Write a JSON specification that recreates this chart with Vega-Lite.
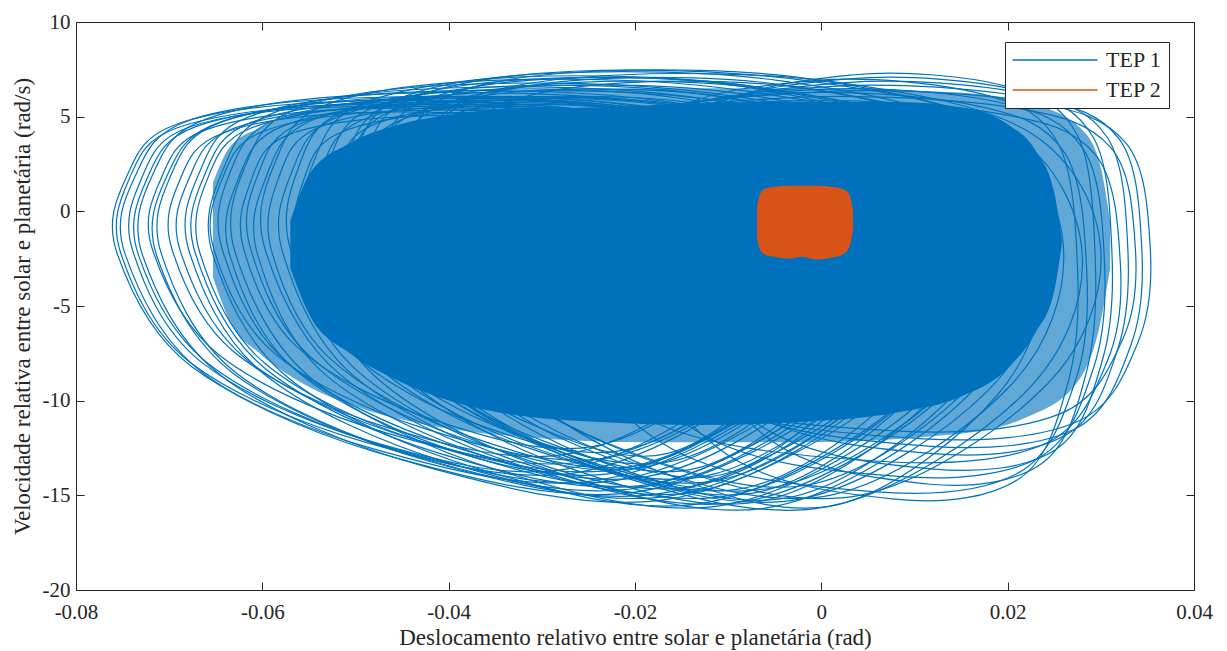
{
"$schema": "https://vega.github.io/schema/vega-lite/v6.json",
"width": 1118, "height": 568,
"autosize": "none",
"padding": {"left": 76, "top": 22, "right": 33, "bottom": 61},
"background": "white",
"datasets": {
"loops": [
{"k":1,"i":1,"x":-0.0517,"y":5.8},{"k":1,"i":2,"x":-0.0263,"y":5.4},{"k":1,"i":3,"x":-0.0040,"y":3.0},{"k":1,"i":4,"x":0.0040,"y":-2.6},{"k":1,"i":5,"x":-0.0024,"y":-9.0},{"k":1,"i":6,"x":-0.0239,"y":-14.2},{"k":1,"i":7,"x":-0.0477,"y":-12.6},{"k":1,"i":8,"x":-0.0676,"y":-8.2},{"k":1,"i":9,"x":-0.0756,"y":-2.2},{"k":1,"i":10,"x":-0.0746,"y":1.8},{"k":1,"i":11,"x":-0.0692,"y":4.6},
{"k":2,"i":1,"x":-0.0493,"y":6.0},{"k":2,"i":2,"x":-0.0222,"y":5.6},{"k":2,"i":3,"x":0.0015,"y":3.1},{"k":2,"i":4,"x":0.0100,"y":-2.7},{"k":2,"i":5,"x":0.0032,"y":-9.4},{"k":2,"i":6,"x":-0.0196,"y":-14.8},{"k":2,"i":7,"x":-0.0451,"y":-13.1},{"k":2,"i":8,"x":-0.0662,"y":-8.6},{"k":2,"i":9,"x":-0.0747,"y":-2.3},{"k":2,"i":10,"x":-0.0737,"y":1.8},{"k":2,"i":11,"x":-0.0679,"y":4.8},
{"k":3,"i":1,"x":-0.0523,"y":5.5},{"k":3,"i":2,"x":-0.0293,"y":5.1},{"k":3,"i":3,"x":-0.0092,"y":2.8},{"k":3,"i":4,"x":-0.0020,"y":-2.5},{"k":3,"i":5,"x":-0.0078,"y":-8.6},{"k":3,"i":6,"x":-0.0272,"y":-13.6},{"k":3,"i":7,"x":-0.0487,"y":-12.1},{"k":3,"i":8,"x":-0.0667,"y":-7.9},{"k":3,"i":9,"x":-0.0739,"y":-2.1},{"k":3,"i":10,"x":-0.0730,"y":1.7},{"k":3,"i":11,"x":-0.0681,"y":4.4},
{"k":4,"i":1,"x":-0.0468,"y":6.2},{"k":4,"i":2,"x":-0.0190,"y":5.8},{"k":4,"i":3,"x":0.0053,"y":3.2},{"k":4,"i":4,"x":0.0140,"y":-2.8},{"k":4,"i":5,"x":0.0071,"y":-9.6},{"k":4,"i":6,"x":-0.0164,"y":-15.2},{"k":4,"i":7,"x":-0.0424,"y":-13.5},{"k":4,"i":8,"x":-0.0641,"y":-8.8},{"k":4,"i":9,"x":-0.0728,"y":-2.4},{"k":4,"i":10,"x":-0.0718,"y":1.9},{"k":4,"i":11,"x":-0.0659,"y":4.9},
{"k":5,"i":1,"x":-0.0503,"y":5.4},{"k":5,"i":2,"x":-0.0273,"y":5.0},{"k":5,"i":3,"x":-0.0072,"y":2.8},{"k":5,"i":4,"x":0.0000,"y":-2.4},{"k":5,"i":5,"x":-0.0057,"y":-8.4},{"k":5,"i":6,"x":-0.0251,"y":-13.2},{"k":5,"i":7,"x":-0.0467,"y":-11.7},{"k":5,"i":8,"x":-0.0646,"y":-7.6},{"k":5,"i":9,"x":-0.0718,"y":-2.0},{"k":5,"i":10,"x":-0.0709,"y":1.7},{"k":5,"i":11,"x":-0.0661,"y":4.3},
{"k":6,"i":1,"x":-0.0472,"y":5.9},{"k":6,"i":2,"x":-0.0219,"y":5.5},{"k":6,"i":3,"x":-0.0001,"y":3.0},{"k":6,"i":4,"x":0.0080,"y":-2.7},{"k":6,"i":5,"x":0.0017,"y":-9.3},{"k":6,"i":6,"x":-0.0196,"y":-14.6},{"k":6,"i":7,"x":-0.0432,"y":-13.0},{"k":6,"i":8,"x":-0.0629,"y":-8.5},{"k":6,"i":9,"x":-0.0708,"y":-2.3},{"k":6,"i":10,"x":-0.0699,"y":1.8},{"k":6,"i":11,"x":-0.0645,"y":4.7},
{"k":7,"i":1,"x":-0.0500,"y":5.2},{"k":7,"i":2,"x":-0.0290,"y":4.8},{"k":7,"i":3,"x":-0.0106,"y":2.7},{"k":7,"i":4,"x":-0.0040,"y":-2.4},{"k":7,"i":5,"x":-0.0093,"y":-8.1},{"k":7,"i":6,"x":-0.0270,"y":-12.8},{"k":7,"i":7,"x":-0.0467,"y":-11.4},{"k":7,"i":8,"x":-0.0631,"y":-7.4},{"k":7,"i":9,"x":-0.0697,"y":-2.0},{"k":7,"i":10,"x":-0.0689,"y":1.6},{"k":7,"i":11,"x":-0.0644,"y":4.1},
{"k":8,"i":1,"x":-0.0439,"y":6.3},{"k":8,"i":2,"x":-0.0183,"y":5.9},{"k":8,"i":3,"x":0.0040,"y":3.3},{"k":8,"i":4,"x":0.0120,"y":-2.6},{"k":8,"i":5,"x":0.0056,"y":-9.5},{"k":8,"i":6,"x":-0.0159,"y":-15.0},{"k":8,"i":7,"x":-0.0399,"y":-13.3},{"k":8,"i":8,"x":-0.0598,"y":-8.6},{"k":8,"i":9,"x":-0.0678,"y":-2.2},{"k":8,"i":10,"x":-0.0668,"y":2.0},{"k":8,"i":11,"x":-0.0614,"y":5.0},
{"k":9,"i":1,"x":-0.0461,"y":5.6},{"k":9,"i":2,"x":-0.0241,"y":5.2},{"k":9,"i":3,"x":-0.0049,"y":2.9},{"k":9,"i":4,"x":0.0020,"y":-2.5},{"k":9,"i":5,"x":-0.0035,"y":-8.8},{"k":9,"i":6,"x":-0.0220,"y":-13.8},{"k":9,"i":7,"x":-0.0427,"y":-12.2},{"k":9,"i":8,"x":-0.0598,"y":-8.0},{"k":9,"i":9,"x":-0.0667,"y":-2.2},{"k":9,"i":10,"x":-0.0659,"y":1.7},{"k":9,"i":11,"x":-0.0612,"y":4.4},
{"k":10,"i":1,"x":-0.0409,"y":6.5},{"k":10,"i":2,"x":-0.0149,"y":6.1},{"k":10,"i":3,"x":0.0079,"y":3.4},{"k":10,"i":4,"x":0.0160,"y":-2.7},{"k":10,"i":5,"x":0.0095,"y":-9.7},{"k":10,"i":6,"x":-0.0125,"y":-15.4},{"k":10,"i":7,"x":-0.0368,"y":-13.6},{"k":10,"i":8,"x":-0.0572,"y":-8.8},{"k":10,"i":9,"x":-0.0653,"y":-2.3},{"k":10,"i":10,"x":-0.0643,"y":2.1},{"k":10,"i":11,"x":-0.0588,"y":5.2},
{"k":11,"i":1,"x":-0.0432,"y":6.0},{"k":11,"i":2,"x":-0.0207,"y":5.6},{"k":11,"i":3,"x":-0.0010,"y":3.2},{"k":11,"i":4,"x":0.0060,"y":-2.4},{"k":11,"i":5,"x":0.0004,"y":-8.8},{"k":11,"i":6,"x":-0.0186,"y":-14.0},{"k":11,"i":7,"x":-0.0397,"y":-12.4},{"k":11,"i":8,"x":-0.0573,"y":-8.0},{"k":11,"i":9,"x":-0.0643,"y":-2.0},{"k":11,"i":10,"x":-0.0635,"y":2.0},{"k":11,"i":11,"x":-0.0587,"y":4.8},
{"k":12,"i":1,"x":-0.0386,"y":6.7},{"k":12,"i":2,"x":-0.0127,"y":6.3},{"k":12,"i":3,"x":0.0099,"y":3.6},{"k":12,"i":4,"x":0.0180,"y":-2.6},{"k":12,"i":5,"x":0.0115,"y":-9.7},{"k":12,"i":6,"x":-0.0103,"y":-15.5},{"k":12,"i":7,"x":-0.0346,"y":-13.7},{"k":12,"i":8,"x":-0.0548,"y":-8.8},{"k":12,"i":9,"x":-0.0629,"y":-2.2},{"k":12,"i":10,"x":-0.0619,"y":2.3},{"k":12,"i":11,"x":-0.0564,"y":5.4},
{"k":13,"i":1,"x":-0.0417,"y":5.8},{"k":13,"i":2,"x":-0.0208,"y":5.4},{"k":13,"i":3,"x":-0.0025,"y":3.1},{"k":13,"i":4,"x":0.0040,"y":-2.3},{"k":13,"i":5,"x":-0.0012,"y":-8.5},{"k":13,"i":6,"x":-0.0189,"y":-13.5},{"k":13,"i":7,"x":-0.0384,"y":-12.0},{"k":13,"i":8,"x":-0.0548,"y":-7.7},{"k":13,"i":9,"x":-0.0613,"y":-1.9},{"k":13,"i":10,"x":-0.0605,"y":1.9},{"k":13,"i":11,"x":-0.0561,"y":4.6},
{"k":14,"i":1,"x":-0.0358,"y":6.9},{"k":14,"i":2,"x":-0.0103,"y":6.5},{"k":14,"i":3,"x":0.0120,"y":3.8},{"k":14,"i":4,"x":0.0200,"y":-2.4},{"k":14,"i":5,"x":0.0136,"y":-9.5},{"k":14,"i":6,"x":-0.0079,"y":-15.3},{"k":14,"i":7,"x":-0.0318,"y":-13.5},{"k":14,"i":8,"x":-0.0517,"y":-8.6},{"k":14,"i":9,"x":-0.0597,"y":-2.0},{"k":14,"i":10,"x":-0.0587,"y":2.5},{"k":14,"i":11,"x":-0.0533,"y":5.6},
{"k":15,"i":1,"x":-0.0369,"y":6.4},{"k":15,"i":2,"x":-0.0155,"y":6.0},{"k":15,"i":3,"x":0.0033,"y":3.5},{"k":15,"i":4,"x":0.0100,"y":-2.4},{"k":15,"i":5,"x":0.0046,"y":-9.1},{"k":15,"i":6,"x":-0.0135,"y":-14.5},{"k":15,"i":7,"x":-0.0336,"y":-12.8},{"k":15,"i":8,"x":-0.0503,"y":-8.2},{"k":15,"i":9,"x":-0.0570,"y":-2.0},{"k":15,"i":10,"x":-0.0562,"y":2.2},{"k":15,"i":11,"x":-0.0516,"y":5.2},
{"k":16,"i":1,"x":-0.0322,"y":7.1},{"k":16,"i":2,"x":-0.0074,"y":6.6},{"k":16,"i":3,"x":0.0143,"y":3.9},{"k":16,"i":4,"x":0.0220,"y":-2.4},{"k":16,"i":5,"x":0.0158,"y":-9.7},{"k":16,"i":6,"x":-0.0051,"y":-15.6},{"k":16,"i":7,"x":-0.0283,"y":-13.8},{"k":16,"i":8,"x":-0.0477,"y":-8.8},{"k":16,"i":9,"x":-0.0554,"y":-2.0},{"k":16,"i":10,"x":-0.0545,"y":2.6},{"k":16,"i":11,"x":-0.0492,"y":5.7},
{"k":17,"i":1,"x":-0.0341,"y":6.6},{"k":17,"i":2,"x":-0.0130,"y":6.2},{"k":17,"i":3,"x":0.0054,"y":3.7},{"k":17,"i":4,"x":0.0120,"y":-2.1},{"k":17,"i":5,"x":0.0067,"y":-8.8},{"k":17,"i":6,"x":-0.0110,"y":-14.2},{"k":17,"i":7,"x":-0.0308,"y":-12.5},{"k":17,"i":8,"x":-0.0472,"y":-8.0},{"k":17,"i":9,"x":-0.0538,"y":-1.7},{"k":17,"i":10,"x":-0.0530,"y":2.4},{"k":17,"i":11,"x":-0.0485,"y":5.4},
{"k":18,"i":1,"x":-0.0286,"y":7.3},{"k":18,"i":2,"x":-0.0045,"y":6.9},{"k":18,"i":3,"x":0.0165,"y":4.2},{"k":18,"i":4,"x":0.0240,"y":-2.2},{"k":18,"i":5,"x":0.0180,"y":-9.4},{"k":18,"i":6,"x":-0.0023,"y":-15.2},{"k":18,"i":7,"x":-0.0248,"y":-13.4},{"k":18,"i":8,"x":-0.0436,"y":-8.5},{"k":18,"i":9,"x":-0.0511,"y":-1.7},{"k":18,"i":10,"x":-0.0502,"y":2.8},{"k":18,"i":11,"x":-0.0451,"y":6.0},
{"k":19,"i":1,"x":-0.0291,"y":7.0},{"k":19,"i":2,"x":-0.0085,"y":6.6},{"k":19,"i":3,"x":0.0096,"y":3.9},{"k":19,"i":4,"x":0.0160,"y":-2.2},{"k":19,"i":5,"x":0.0109,"y":-9.1},{"k":19,"i":6,"x":-0.0065,"y":-14.8},{"k":19,"i":7,"x":-0.0259,"y":-13.1},{"k":19,"i":8,"x":-0.0420,"y":-8.3},{"k":19,"i":9,"x":-0.0484,"y":-1.7},{"k":19,"i":10,"x":-0.0476,"y":2.6},{"k":19,"i":11,"x":-0.0433,"y":5.7},
{"k":20,"i":1,"x":-0.0243,"y":7.4},{"k":20,"i":2,"x":-0.0013,"y":7.0},{"k":20,"i":3,"x":0.0188,"y":4.3},{"k":20,"i":4,"x":0.0260,"y":-2.0},{"k":20,"i":5,"x":0.0203,"y":-9.2},{"k":20,"i":6,"x":0.0009,"y":-15.0},{"k":20,"i":7,"x":-0.0207,"y":-13.2},{"k":20,"i":8,"x":-0.0386,"y":-8.3},{"k":20,"i":9,"x":-0.0458,"y":-1.6},{"k":20,"i":10,"x":-0.0449,"y":2.9},{"k":20,"i":11,"x":-0.0401,"y":6.1},
{"k":21,"i":1,"x":-0.0006,"y":6.3},{"k":21,"i":2,"x":0.0222,"y":5.8},{"k":21,"i":3,"x":0.0327,"y":3.6},{"k":21,"i":4,"x":0.0353,"y":-1.9},{"k":21,"i":5,"x":0.0340,"y":-6.9},{"k":21,"i":6,"x":0.0275,"y":-11.1},{"k":21,"i":7,"x":0.0105,"y":-12.0},{"k":21,"i":8,"x":-0.0137,"y":-9.8},{"k":21,"i":9,"x":-0.0300,"y":-1.9},{"k":21,"i":10,"x":-0.0222,"y":4.5},
{"k":22,"i":1,"x":0.0012,"y":6.6},{"k":22,"i":2,"x":0.0223,"y":6.0},{"k":22,"i":3,"x":0.0320,"y":3.8},{"k":22,"i":4,"x":0.0344,"y":-2.0},{"k":22,"i":5,"x":0.0332,"y":-7.1},{"k":22,"i":6,"x":0.0272,"y":-11.5},{"k":22,"i":7,"x":0.0115,"y":-12.4},{"k":22,"i":8,"x":-0.0109,"y":-10.1},{"k":22,"i":9,"x":-0.0260,"y":-2.0},{"k":22,"i":10,"x":-0.0188,"y":4.7},
{"k":23,"i":1,"x":-0.0035,"y":6.0},{"k":23,"i":2,"x":0.0202,"y":5.5},{"k":23,"i":3,"x":0.0310,"y":3.4},{"k":23,"i":4,"x":0.0337,"y":-1.9},{"k":23,"i":5,"x":0.0324,"y":-6.7},{"k":23,"i":6,"x":0.0256,"y":-10.7},{"k":23,"i":7,"x":0.0080,"y":-11.6},{"k":23,"i":8,"x":-0.0171,"y":-9.5},{"k":23,"i":9,"x":-0.0340,"y":-1.9},{"k":23,"i":10,"x":-0.0259,"y":4.2},
{"k":24,"i":1,"x":0.0027,"y":6.8},{"k":24,"i":2,"x":0.0219,"y":6.2},{"k":24,"i":3,"x":0.0307,"y":3.9},{"k":24,"i":4,"x":0.0329,"y":-2.0},{"k":24,"i":5,"x":0.0318,"y":-7.3},{"k":24,"i":6,"x":0.0263,"y":-11.8},{"k":24,"i":7,"x":0.0120,"y":-12.8},{"k":24,"i":8,"x":-0.0083,"y":-10.4},{"k":24,"i":9,"x":-0.0220,"y":-2.0},{"k":24,"i":10,"x":-0.0154,"y":4.8},
{"k":25,"i":1,"x":-0.0054,"y":5.8},{"k":25,"i":2,"x":0.0185,"y":5.2},{"k":25,"i":3,"x":0.0294,"y":3.0},{"k":25,"i":4,"x":0.0321,"y":-2.8},{"k":25,"i":5,"x":0.0307,"y":-7.9},{"k":25,"i":6,"x":0.0239,"y":-12.3},{"k":25,"i":7,"x":0.0062,"y":-13.2},{"k":25,"i":8,"x":-0.0190,"y":-10.9},{"k":25,"i":9,"x":-0.0360,"y":-2.8},{"k":25,"i":10,"x":-0.0278,"y":3.9},
{"k":26,"i":1,"x":0.0030,"y":7.0},{"k":26,"i":2,"x":0.0210,"y":6.4},{"k":26,"i":3,"x":0.0292,"y":3.9},{"k":26,"i":4,"x":0.0312,"y":-2.3},{"k":26,"i":5,"x":0.0302,"y":-7.8},{"k":26,"i":6,"x":0.0251,"y":-12.6},{"k":26,"i":7,"x":0.0117,"y":-13.6},{"k":26,"i":8,"x":-0.0072,"y":-11.1},{"k":26,"i":9,"x":-0.0200,"y":-2.3},{"k":26,"i":10,"x":-0.0139,"y":4.9},
{"k":27,"i":1,"x":-0.0017,"y":6.4},{"k":27,"i":2,"x":0.0187,"y":5.8},{"k":27,"i":3,"x":0.0281,"y":3.3},{"k":27,"i":4,"x":0.0304,"y":-2.8},{"k":27,"i":5,"x":0.0292,"y":-8.3},{"k":27,"i":6,"x":0.0234,"y":-13.0},{"k":27,"i":7,"x":0.0082,"y":-14.0},{"k":27,"i":8,"x":-0.0134,"y":-11.6},{"k":27,"i":9,"x":-0.0280,"y":-2.8},{"k":27,"i":10,"x":-0.0210,"y":4.4},
{"k":28,"i":1,"x":0.0033,"y":7.2},{"k":28,"i":2,"x":0.0199,"y":6.6},{"k":28,"i":3,"x":0.0275,"y":4.0},{"k":28,"i":4,"x":0.0294,"y":-2.5},{"k":28,"i":5,"x":0.0285,"y":-8.4},{"k":28,"i":6,"x":0.0237,"y":-13.3},{"k":28,"i":7,"x":0.0114,"y":-14.4},{"k":28,"i":8,"x":-0.0062,"y":-11.8},{"k":28,"i":9,"x":-0.0180,"y":-2.5},{"k":28,"i":10,"x":-0.0123,"y":5.0},
{"k":29,"i":1,"x":-0.0048,"y":6.2},{"k":29,"i":2,"x":0.0164,"y":5.6},{"k":29,"i":3,"x":0.0261,"y":3.1},{"k":29,"i":4,"x":0.0285,"y":-3.3},{"k":29,"i":5,"x":0.0273,"y":-8.9},{"k":29,"i":6,"x":0.0212,"y":-13.8},{"k":29,"i":7,"x":0.0055,"y":-14.8},{"k":29,"i":8,"x":-0.0169,"y":-12.3},{"k":29,"i":9,"x":-0.0320,"y":-3.3},{"k":29,"i":10,"x":-0.0247,"y":4.1},
{"k":30,"i":1,"x":-0.0008,"y":6.9},{"k":30,"i":2,"x":0.0172,"y":6.2},{"k":30,"i":3,"x":0.0254,"y":3.6},{"k":30,"i":4,"x":0.0275,"y":-3.0},{"k":30,"i":5,"x":0.0265,"y":-9.0},{"k":30,"i":6,"x":0.0213,"y":-14.1},{"k":30,"i":7,"x":0.0079,"y":-15.2},{"k":30,"i":8,"x":-0.0111,"y":-12.5},{"k":30,"i":9,"x":-0.0240,"y":-3.0},{"k":30,"i":10,"x":-0.0178,"y":4.7},
{"k":31,"i":1,"x":-0.0266,"y":7.4},{"k":31,"i":2,"x":-0.0016,"y":6.9},{"k":31,"i":3,"x":0.0202,"y":4.2},{"k":31,"i":4,"x":0.0280,"y":-2.3},{"k":31,"i":5,"x":0.0218,"y":-9.6},{"k":31,"i":6,"x":0.0007,"y":-15.6},{"k":31,"i":7,"x":-0.0227,"y":-13.8},{"k":31,"i":8,"x":-0.0422,"y":-8.7},{"k":31,"i":9,"x":-0.0500,"y":-1.8},{"k":31,"i":10,"x":-0.0491,"y":2.8},{"k":31,"i":11,"x":-0.0438,"y":6.0},
{"k":32,"i":1,"x":-0.0218,"y":7.2},{"k":32,"i":2,"x":0.0019,"y":6.8},{"k":32,"i":3,"x":0.0226,"y":4.1},{"k":32,"i":4,"x":0.0300,"y":-2.1},{"k":32,"i":5,"x":0.0241,"y":-9.2},{"k":32,"i":6,"x":0.0041,"y":-15.0},{"k":32,"i":7,"x":-0.0181,"y":-13.2},{"k":32,"i":8,"x":-0.0366,"y":-8.3},{"k":32,"i":9,"x":-0.0440,"y":-1.7},{"k":32,"i":10,"x":-0.0431,"y":2.8},{"k":32,"i":11,"x":-0.0381,"y":5.9},
{"k":33,"i":1,"x":-0.0208,"y":6.8},{"k":33,"i":2,"x":-0.0003,"y":6.4},{"k":33,"i":3,"x":0.0176,"y":3.7},{"k":33,"i":4,"x":0.0240,"y":-2.6},{"k":33,"i":5,"x":0.0189,"y":-9.7},{"k":33,"i":6,"x":0.0016,"y":-15.5},{"k":33,"i":7,"x":-0.0176,"y":-13.7},{"k":33,"i":8,"x":-0.0336,"y":-8.8},{"k":33,"i":9,"x":-0.0400,"y":-2.1},{"k":33,"i":10,"x":-0.0392,"y":2.3},{"k":33,"i":11,"x":-0.0349,"y":5.5},
{"k":34,"i":1,"x":-0.0304,"y":7.0},{"k":34,"i":2,"x":-0.0074,"y":6.6},{"k":34,"i":3,"x":0.0128,"y":4.0},{"k":34,"i":4,"x":0.0200,"y":-2.1},{"k":34,"i":5,"x":0.0142,"y":-9.0},{"k":34,"i":6,"x":-0.0052,"y":-14.6},{"k":34,"i":7,"x":-0.0268,"y":-12.9},{"k":34,"i":8,"x":-0.0448,"y":-8.1},{"k":34,"i":9,"x":-0.0520,"y":-1.6},{"k":34,"i":10,"x":-0.0511,"y":2.7},{"k":34,"i":11,"x":-0.0462,"y":5.7},
{"k":35,"i":1,"x":-0.0456,"y":5.3},{"k":35,"i":2,"x":-0.0248,"y":4.9},{"k":35,"i":3,"x":-0.0065,"y":2.7},{"k":35,"i":4,"x":0.0000,"y":-2.4},{"k":35,"i":5,"x":-0.0052,"y":-8.2},{"k":35,"i":6,"x":-0.0228,"y":-13.0},{"k":35,"i":7,"x":-0.0424,"y":-11.5},{"k":35,"i":8,"x":-0.0587,"y":-7.5},{"k":35,"i":9,"x":-0.0652,"y":-2.0},{"k":35,"i":10,"x":-0.0644,"y":1.6},{"k":35,"i":11,"x":-0.0600,"y":4.2},
{"k":36,"i":1,"x":-0.0421,"y":5.7},{"k":36,"i":2,"x":-0.0192,"y":5.3},{"k":36,"i":3,"x":0.0009,"y":2.9},{"k":36,"i":4,"x":0.0080,"y":-2.7},{"k":36,"i":5,"x":0.0023,"y":-9.2},{"k":36,"i":6,"x":-0.0170,"y":-14.4},{"k":36,"i":7,"x":-0.0385,"y":-12.8},{"k":36,"i":8,"x":-0.0564,"y":-8.4},{"k":36,"i":9,"x":-0.0635,"y":-2.3},{"k":36,"i":10,"x":-0.0626,"y":1.7},{"k":36,"i":11,"x":-0.0578,"y":4.5},
{"k":37,"i":1,"x":-0.0446,"y":5.0},{"k":37,"i":2,"x":-0.0260,"y":4.7},{"k":37,"i":3,"x":-0.0098,"y":2.6},{"k":37,"i":4,"x":-0.0040,"y":-2.3},{"k":37,"i":5,"x":-0.0086,"y":-7.9},{"k":37,"i":6,"x":-0.0243,"y":-12.4},{"k":37,"i":7,"x":-0.0417,"y":-11.0},{"k":37,"i":8,"x":-0.0562,"y":-7.2},{"k":37,"i":9,"x":-0.0620,"y":-2.0},{"k":37,"i":10,"x":-0.0613,"y":1.5},{"k":37,"i":11,"x":-0.0574,"y":4.0},
{"k":38,"i":1,"x":-0.0388,"y":6.0},{"k":38,"i":2,"x":-0.0156,"y":5.6},{"k":38,"i":3,"x":0.0048,"y":3.1},{"k":38,"i":4,"x":0.0120,"y":-2.7},{"k":38,"i":5,"x":0.0062,"y":-9.4},{"k":38,"i":6,"x":-0.0134,"y":-14.8},{"k":38,"i":7,"x":-0.0351,"y":-13.1},{"k":38,"i":8,"x":-0.0533,"y":-8.6},{"k":38,"i":9,"x":-0.0605,"y":-2.3},{"k":38,"i":10,"x":-0.0596,"y":1.8},{"k":38,"i":11,"x":-0.0547,"y":4.8},
{"k":39,"i":1,"x":-0.0407,"y":5.5},{"k":39,"i":2,"x":-0.0212,"y":5.1},{"k":39,"i":3,"x":-0.0041,"y":2.9},{"k":39,"i":4,"x":0.0020,"y":-2.4},{"k":39,"i":5,"x":-0.0029,"y":-8.5},{"k":39,"i":6,"x":-0.0194,"y":-13.4},{"k":39,"i":7,"x":-0.0377,"y":-11.9},{"k":39,"i":8,"x":-0.0529,"y":-7.7},{"k":39,"i":9,"x":-0.0590,"y":-2.1},{"k":39,"i":10,"x":-0.0583,"y":1.7},{"k":39,"i":11,"x":-0.0541,"y":4.4},
{"k":40,"i":1,"x":-0.0357,"y":6.3},{"k":40,"i":2,"x":-0.0120,"y":5.9},{"k":40,"i":3,"x":0.0086,"y":3.3},{"k":40,"i":4,"x":0.0160,"y":-2.6},{"k":40,"i":5,"x":0.0101,"y":-9.5},{"k":40,"i":6,"x":-0.0098,"y":-15.0},{"k":40,"i":7,"x":-0.0320,"y":-13.3},{"k":40,"i":8,"x":-0.0504,"y":-8.6},{"k":40,"i":9,"x":-0.0578,"y":-2.2},{"k":40,"i":10,"x":-0.0569,"y":2.0},{"k":40,"i":11,"x":-0.0519,"y":5.0},
{"k":41,"i":1,"x":-0.0399,"y":5.2},{"k":41,"i":2,"x":-0.0226,"y":4.8},{"k":41,"i":3,"x":-0.0074,"y":2.7},{"k":41,"i":4,"x":-0.0020,"y":-2.3},{"k":41,"i":5,"x":-0.0063,"y":-8.0},{"k":41,"i":6,"x":-0.0210,"y":-12.6},{"k":41,"i":7,"x":-0.0372,"y":-11.2},{"k":41,"i":8,"x":-0.0508,"y":-7.3},{"k":41,"i":9,"x":-0.0562,"y":-1.9},{"k":41,"i":10,"x":-0.0556,"y":1.6},{"k":41,"i":11,"x":-0.0519,"y":4.1},
{"k":42,"i":1,"x":-0.0352,"y":6.0},{"k":42,"i":2,"x":-0.0146,"y":5.6},{"k":42,"i":3,"x":0.0035,"y":3.2},{"k":42,"i":4,"x":0.0100,"y":-2.4},{"k":42,"i":5,"x":0.0048,"y":-8.8},{"k":42,"i":6,"x":-0.0126,"y":-14.0},{"k":42,"i":7,"x":-0.0320,"y":-12.4},{"k":42,"i":8,"x":-0.0481,"y":-8.0},{"k":42,"i":9,"x":-0.0546,"y":-2.0},{"k":42,"i":10,"x":-0.0538,"y":2.0},{"k":42,"i":11,"x":-0.0494,"y":4.8},
{"k":43,"i":1,"x":-0.0359,"y":5.6},{"k":43,"i":2,"x":-0.0177,"y":5.2},{"k":43,"i":3,"x":-0.0017,"y":3.0},{"k":43,"i":4,"x":0.0040,"y":-2.3},{"k":43,"i":5,"x":-0.0006,"y":-8.3},{"k":43,"i":6,"x":-0.0160,"y":-13.2},{"k":43,"i":7,"x":-0.0331,"y":-11.7},{"k":43,"i":8,"x":-0.0473,"y":-7.6},{"k":43,"i":9,"x":-0.0530,"y":-1.9},{"k":43,"i":10,"x":-0.0523,"y":1.8},{"k":43,"i":11,"x":-0.0484,"y":4.5},
{"k":44,"i":1,"x":-0.0309,"y":6.6},{"k":44,"i":2,"x":-0.0085,"y":6.2},{"k":44,"i":3,"x":0.0110,"y":3.5},{"k":44,"i":4,"x":0.0180,"y":-2.6},{"k":44,"i":5,"x":0.0124,"y":-9.6},{"k":44,"i":6,"x":-0.0064,"y":-15.3},{"k":44,"i":7,"x":-0.0274,"y":-13.5},{"k":44,"i":8,"x":-0.0448,"y":-8.7},{"k":44,"i":9,"x":-0.0518,"y":-2.2},{"k":44,"i":10,"x":-0.0510,"y":2.2},{"k":44,"i":11,"x":-0.0462,"y":5.3},
{"k":45,"i":1,"x":-0.0333,"y":5.9},{"k":45,"i":2,"x":-0.0154,"y":5.5},{"k":45,"i":3,"x":0.0004,"y":3.2},{"k":45,"i":4,"x":0.0060,"y":-2.3},{"k":45,"i":5,"x":0.0015,"y":-8.5},{"k":45,"i":6,"x":-0.0137,"y":-13.6},{"k":45,"i":7,"x":-0.0305,"y":-12.0},{"k":45,"i":8,"x":-0.0446,"y":-7.8},{"k":45,"i":9,"x":-0.0502,"y":-1.9},{"k":45,"i":10,"x":-0.0495,"y":2.0},{"k":45,"i":11,"x":-0.0457,"y":4.7},
{"k":46,"i":1,"x":-0.0301,"y":6.4},{"k":46,"i":2,"x":-0.0099,"y":6.0},{"k":46,"i":3,"x":0.0077,"y":3.5},{"k":46,"i":4,"x":0.0140,"y":-2.4},{"k":46,"i":5,"x":0.0090,"y":-9.1},{"k":46,"i":6,"x":-0.0081,"y":-14.6},{"k":46,"i":7,"x":-0.0270,"y":-12.9},{"k":46,"i":8,"x":-0.0427,"y":-8.3},{"k":46,"i":9,"x":-0.0490,"y":-2.0},{"k":46,"i":10,"x":-0.0482,"y":2.2},{"k":46,"i":11,"x":-0.0440,"y":5.1},
{"k":47,"i":1,"x":-0.0333,"y":5.4},{"k":47,"i":2,"x":-0.0181,"y":5.0},{"k":47,"i":3,"x":-0.0048,"y":2.9},{"k":47,"i":4,"x":0.0000,"y":-2.2},{"k":47,"i":5,"x":-0.0038,"y":-8.1},{"k":47,"i":6,"x":-0.0166,"y":-12.8},{"k":47,"i":7,"x":-0.0309,"y":-11.3},{"k":47,"i":8,"x":-0.0428,"y":-7.3},{"k":47,"i":9,"x":-0.0475,"y":-1.9},{"k":47,"i":10,"x":-0.0469,"y":1.8},{"k":47,"i":11,"x":-0.0437,"y":4.3},
{"k":48,"i":1,"x":-0.0266,"y":6.8},{"k":48,"i":2,"x":-0.0053,"y":6.4},{"k":48,"i":3,"x":0.0134,"y":3.7},{"k":48,"i":4,"x":0.0200,"y":-2.4},{"k":48,"i":5,"x":0.0147,"y":-9.4},{"k":48,"i":6,"x":-0.0033,"y":-15.1},{"k":48,"i":7,"x":-0.0232,"y":-13.3},{"k":48,"i":8,"x":-0.0399,"y":-8.5},{"k":48,"i":9,"x":-0.0465,"y":-2.0},{"k":48,"i":10,"x":-0.0457,"y":2.4},{"k":48,"i":11,"x":-0.0412,"y":5.5},
{"k":49,"i":1,"x":-0.0291,"y":6.0},{"k":49,"i":2,"x":-0.0121,"y":5.6},{"k":49,"i":3,"x":0.0027,"y":3.2},{"k":49,"i":4,"x":0.0080,"y":-2.4},{"k":49,"i":5,"x":0.0038,"y":-8.7},{"k":49,"i":6,"x":-0.0106,"y":-13.9},{"k":49,"i":7,"x":-0.0265,"y":-12.3},{"k":49,"i":8,"x":-0.0397,"y":-7.9},{"k":49,"i":9,"x":-0.0450,"y":-2.0},{"k":49,"i":10,"x":-0.0444,"y":2.0},{"k":49,"i":11,"x":-0.0408,"y":4.8},
{"k":50,"i":1,"x":-0.0239,"y":7.0},{"k":50,"i":2,"x":-0.0029,"y":6.6},{"k":50,"i":3,"x":0.0155,"y":4.0},{"k":50,"i":4,"x":0.0220,"y":-2.0},{"k":50,"i":5,"x":0.0168,"y":-8.8},{"k":50,"i":6,"x":-0.0009,"y":-14.4},{"k":50,"i":7,"x":-0.0206,"y":-12.7},{"k":50,"i":8,"x":-0.0370,"y":-8.0},{"k":50,"i":9,"x":-0.0435,"y":-1.6},{"k":50,"i":10,"x":-0.0427,"y":2.7},{"k":50,"i":11,"x":-0.0383,"y":5.7},
{"k":51,"i":1,"x":-0.0526,"y":5.6},{"k":51,"i":2,"x":-0.0286,"y":5.2},{"k":51,"i":3,"x":-0.0075,"y":2.9},{"k":51,"i":4,"x":0.0000,"y":-2.5},{"k":51,"i":5,"x":-0.0060,"y":-8.8},{"k":51,"i":6,"x":-0.0263,"y":-13.8},{"k":51,"i":7,"x":-0.0489,"y":-12.2},{"k":51,"i":8,"x":-0.0677,"y":-8.0},{"k":51,"i":9,"x":-0.0752,"y":-2.2},{"k":51,"i":10,"x":-0.0743,"y":1.7},{"k":51,"i":11,"x":-0.0692,"y":4.4},
{"k":52,"i":1,"x":-0.0495,"y":5.7},{"k":52,"i":2,"x":-0.0241,"y":5.3},{"k":52,"i":3,"x":-0.0019,"y":2.9},{"k":52,"i":4,"x":0.0060,"y":-2.7},{"k":52,"i":5,"x":-0.0003,"y":-9.0},{"k":52,"i":6,"x":-0.0218,"y":-14.2},{"k":52,"i":7,"x":-0.0455,"y":-12.6},{"k":52,"i":8,"x":-0.0654,"y":-8.2},{"k":52,"i":9,"x":-0.0733,"y":-2.3},{"k":52,"i":10,"x":-0.0724,"y":1.7},{"k":52,"i":11,"x":-0.0670,"y":4.5},
{"k":53,"i":1,"x":-0.0463,"y":6.0},{"k":53,"i":2,"x":-0.0197,"y":5.6},{"k":53,"i":3,"x":0.0037,"y":3.1},{"k":53,"i":4,"x":0.0120,"y":-2.8},{"k":53,"i":5,"x":0.0053,"y":-9.5},{"k":53,"i":6,"x":-0.0172,"y":-14.9},{"k":53,"i":7,"x":-0.0421,"y":-13.2},{"k":53,"i":8,"x":-0.0630,"y":-8.6},{"k":53,"i":9,"x":-0.0713,"y":-2.4},{"k":53,"i":10,"x":-0.0703,"y":1.8},{"k":53,"i":11,"x":-0.0646,"y":4.7},
{"k":54,"i":1,"x":-0.0470,"y":5.5},{"k":54,"i":2,"x":-0.0237,"y":5.1},{"k":54,"i":3,"x":-0.0033,"y":2.8},{"k":54,"i":4,"x":0.0040,"y":-2.5},{"k":54,"i":5,"x":-0.0018,"y":-8.6},{"k":54,"i":6,"x":-0.0215,"y":-13.6},{"k":54,"i":7,"x":-0.0433,"y":-12.1},{"k":54,"i":8,"x":-0.0615,"y":-7.9},{"k":54,"i":9,"x":-0.0688,"y":-2.1},{"k":54,"i":10,"x":-0.0679,"y":1.7},{"k":54,"i":11,"x":-0.0630,"y":4.4},
{"k":55,"i":1,"x":-0.0446,"y":5.9},{"k":55,"i":2,"x":-0.0206,"y":5.5},{"k":55,"i":3,"x":0.0005,"y":3.1},{"k":55,"i":4,"x":0.0080,"y":-2.6},{"k":55,"i":5,"x":0.0020,"y":-9.1},{"k":55,"i":6,"x":-0.0183,"y":-14.4},{"k":55,"i":7,"x":-0.0409,"y":-12.8},{"k":55,"i":8,"x":-0.0597,"y":-8.3},{"k":55,"i":9,"x":-0.0672,"y":-2.2},{"k":55,"i":10,"x":-0.0663,"y":1.8},{"k":55,"i":11,"x":-0.0612,"y":4.7}
],
"halo": [
{"x":-0.0653,"t":1.5,"b":-3.5},
{"x":-0.0635,"t":3.4,"b":-5.8},
{"x":-0.0603,"t":4.4,"b":-7.5},
{"x":-0.0560,"t":5.2,"b":-9.0},
{"x":-0.0506,"t":5.7,"b":-10.2},
{"x":-0.0431,"t":6.1,"b":-11.2},
{"x":-0.0323,"t":6.3,"b":-11.9},
{"x":-0.0184,"t":6.5,"b":-12.2},
{"x":-0.0023,"t":6.5,"b":-12.2},
{"x":0.0138,"t":6.3,"b":-11.8},
{"x":0.0224,"t":5.7,"b":-10.8},
{"x":0.0278,"t":4.4,"b":-8.8},
{"x":0.0299,"t":2.5,"b":-6.0},
{"x":0.0310,"t":-0.5,"b":-3.0}
],
"core": [
{"x":-0.0570,"t":-0.5,"b":-3.0},
{"x":-0.0549,"t":2.0,"b":-5.5},
{"x":-0.0506,"t":3.6,"b":-7.5},
{"x":-0.0452,"t":4.6,"b":-9.0},
{"x":-0.0399,"t":5.1,"b":-10.0},
{"x":-0.0323,"t":5.4,"b":-10.8},
{"x":-0.0238,"t":5.5,"b":-11.13},
{"x":-0.0130,"t":5.7,"b":-11.29},
{"x":-0.0023,"t":5.8,"b":-11.13},
{"x":0.0084,"t":5.77,"b":-10.6},
{"x":0.0149,"t":5.5,"b":-9.8},
{"x":0.0200,"t":4.6,"b":-8.3},
{"x":0.0230,"t":3.2,"b":-6.4},
{"x":0.0250,"t":1.0,"b":-4.2},
{"x":0.0258,"t":-1.4,"b":-1.8}
],
"blob": [
{"x":-0.0069,"t":0.2,"b":-1.4},
{"x":-0.0066,"t":0.9,"b":-2.0},
{"x":-0.0060,"t":1.2,"b":-2.3},
{"x":-0.0050,"t":1.3,"b":-2.4},
{"x":-0.0035,"t":1.35,"b":-2.5},
{"x":-0.0020,"t":1.35,"b":-2.4},
{"x":-0.0005,"t":1.35,"b":-2.55},
{"x":0.0010,"t":1.3,"b":-2.45},
{"x":0.0022,"t":1.2,"b":-2.3},
{"x":0.0030,"t":0.9,"b":-1.9},
{"x":0.0034,"t":0.0,"b":-1.0}
]
},
"layer": [
{
"data": {"name": "loops"},
"mark": {"type": "line", "interpolate": "cardinal-closed", "strokeWidth": 1.2},
"encoding": {
"x": {"field": "x", "type": "quantitative", "scale": {"domain": [-0.08, 0.04], "nice": false, "zero": false},
"axis": {"orient": "bottom", "values": [-0.08, -0.06, -0.04, -0.02, 0, 0.02, 0.04], "labelExpr": "replace(format(datum.value, '~g'), '\u2212', '-')", "title": "Deslocamento relativo entre solar e planetária (rad)", "labelPadding": 19, "titlePadding": 4}},
"y": {"field": "y", "type": "quantitative", "scale": {"domain": [-20, 10], "nice": false, "zero": false},
"axis": {"orient": "left", "values": [-20, -15, -10, -5, 0, 5, 10], "labelExpr": "replace(format(datum.value, '~g'), '\u2212', '-')", "title": "Velocidade relativa entre solar e planetária (rad/s)", "labelPadding": 14, "titlePadding": 8}},
"detail": {"field": "k", "type": "nominal"},
"order": {"field": "i", "type": "quantitative"},
"color": {"datum": "TEP 1", "type": "nominal", "scale": {"domain": ["TEP 1", "TEP 2"], "range": ["#0072BD", "#D95319"]},
"legend": {"title": null, "orient": "none", "legendX": 929, "legendY": 20, "symbolType": "M-4.25,0H4.25", "symbolSize": 400, "symbolOffset": 32, "labelOffset": 40, "rowPadding": 8, "symbolStrokeWidth": 1.5, "labelFontSize": 22, "labelFont": "Liberation Serif", "labelColor": "#262626", "strokeColor": "#262626", "fillColor": "white", "padding": 7}}
}
},
{
"data": {"name": "halo"},
"mark": {"type": "area", "interpolate": "monotone", "fillOpacity": 0.62},
"encoding": {
"x": {"field": "x", "type": "quantitative", "axis": {"orient": "top", "values": [-0.08, -0.06, -0.04, -0.02, 0, 0.02, 0.04], "labels": false, "title": null}},
"y": {"field": "t", "type": "quantitative", "axis": {"orient": "right", "values": [-20, -15, -10, -5, 0, 5, 10], "labels": false, "title": null}},
"y2": {"field": "b"},
"color": {"datum": "TEP 1", "type": "nominal"}
}
},
{
"data": {"name": "core"},
"mark": {"type": "area", "interpolate": "monotone"},
"encoding": {
"x": {"field": "x", "type": "quantitative", "axis": null},
"y": {"field": "t", "type": "quantitative", "axis": null},
"y2": {"field": "b"},
"color": {"datum": "TEP 1", "type": "nominal"}
}
},
{
"data": {"name": "blob"},
"mark": {"type": "area", "interpolate": "monotone"},
"encoding": {
"x": {"field": "x", "type": "quantitative", "axis": null},
"y": {"field": "t", "type": "quantitative", "axis": null},
"y2": {"field": "b"},
"color": {"datum": "TEP 2", "type": "nominal"}
}
}
],
"resolve": {"axis": {"x": "independent", "y": "independent"}},
"config": {
"view": {"stroke": null},
"font": "Liberation Serif",
"axis": {"domainColor": "#262626", "tickColor": "#262626", "labelColor": "#262626", "titleColor": "#262626", "grid": false, "tickSize": -8, "labelFontSize": 21, "titleFontSize": 23, "titleFontWeight": "normal", "labelFont": "Liberation Serif", "titleFont": "Liberation Serif", "labelFlush": false, "labelOverlap": false}
}
}
